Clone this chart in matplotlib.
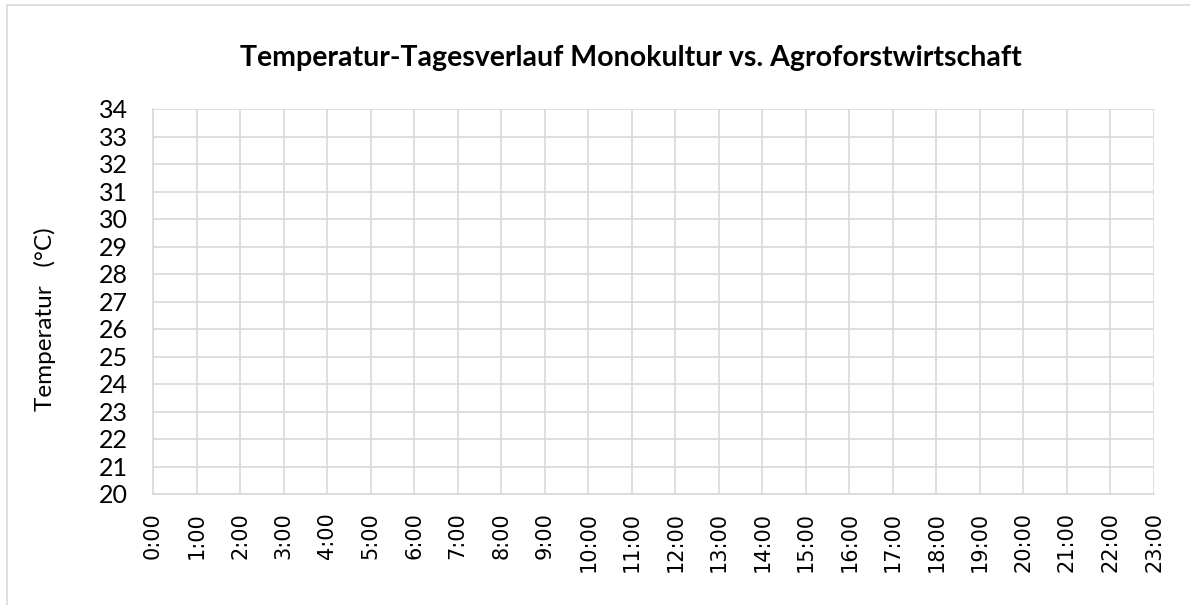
import numpy as np
import matplotlib
matplotlib.use("Agg")
import matplotlib.pyplot as plt
from matplotlib.patches import Rectangle

# chart data (the reference chart has no plotted values)
hours = [f"{h}:00" for h in range(24)]
monokultur = [np.nan] * 24
agroforst = [np.nan] * 24
y_ticks = list(range(20, 35))

title = "Temperatur-Tagesverlauf Monokultur vs. Agroforstwirtschaft"
y_label = "Temperatur   (°C)"

fig = plt.figure(figsize=(11.9, 6.05), dpi=100)
W, H = 1190, 605
ax = fig.add_axes([153 / W, 1 - 494 / H, (1154 - 153) / W, (494 - 109) / H])

x = np.arange(len(hours))
ax.plot(x, monokultur, color="#4472c4")
ax.plot(x, agroforst, color="#ed7d31")

ax.set_xlim(0, len(hours) - 1)
ax.set_ylim(y_ticks[0], y_ticks[-1])
ax.set_xticks(x)
ax.set_xticklabels(hours, rotation=90, fontsize=15, family="DejaVu Sans")
ax.set_yticks(y_ticks)
ax.set_yticklabels([str(v) for v in y_ticks], fontsize=18, family="Lato")
ax.tick_params(length=0, pad=13)
ax.tick_params(axis="y", pad=18)

ax.grid(True, color="#d9d9d9", linewidth=1.2)
ax.set_axisbelow(True)
for side in ["top", "right"]:
    ax.spines[side].set_visible(False)
for side in ["left", "bottom"]:
    ax.spines[side].set_color("#d9d9d9")
    ax.spines[side].set_linewidth(1.2)

fig.text(631 / W, 1 - 58 / H, title, ha="center", va="center",
         fontsize=20.5, fontweight="bold", family="Lato")
fig.text(45 / W, 1 - 319 / H, y_label, ha="center", va="center",
         rotation=90, fontsize=17.5, family="Lato")

# outer chart frame
fig.patches.append(Rectangle((7 / W, -0.1), 1.2, 1 - 5 / H + 0.1,
                             transform=fig.transFigure, fill=False,
                             edgecolor="#d9d9d9", linewidth=1.2))

fig.savefig("out.png", dpi=100)
